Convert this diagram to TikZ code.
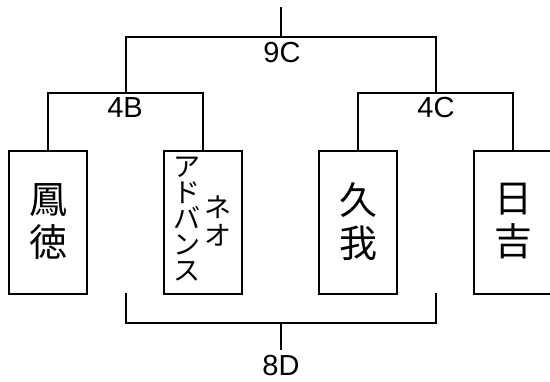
\documentclass[tikz,border=0pt]{standalone}
\usepackage{fontspec}
\setmainfont{Liberation Sans}
\newfontfamily\jp{Noto Sans CJK JP}
\begin{document}
\begin{tikzpicture}[x=1pt,y=-1pt,
  line/.style={line width=2pt,line cap=rect},
  teambox/.style={draw,line width=2pt,minimum width=78pt,minimum height=143.3pt,inner sep=0pt},
  kanji/.style={font=\jp\fontsize{38}{43}\selectfont,align=center,inner sep=0pt},
  kana/.style={font=\jp\fontsize{27}{26}\selectfont,align=center,inner sep=0pt},
  kanb/.style={font=\jp\fontsize{27}{28}\selectfont,align=center,inner sep=0pt},
  score/.style={font=\fontsize{29}{32}\selectfont,inner sep=0pt}]
\useasboundingbox (0,0) rectangle (550,381);
% boxes
\node[teambox] (b1) at (48,222.4) {};
\node[teambox] (b2) at (203,222.4) {};
\node[teambox] (b3) at (358,222.4) {};
\node[teambox] (b4) at (513,222.4) {};
\node[kanji] (t1) at (48,221.5) {鳳\\徳};
\node[kana] (t2a) at (187,219.5) {ア\\ド\\バ\\ン\\ス};
\node[kanb] (t2b) at (218,221.5) {ネ\\オ};
\node[kanji] (t3) at (358,221.5) {久\\我};
\node[kanji] (t4) at (513,221.5) {日\\吉};
% junction coordinates
\coordinate (m4B) at (125.5,93.3);
\coordinate (m4C) at (435.5,93.3);
\coordinate (m9C) at (281,37);
\coordinate (top) at (281,8);
\coordinate (bl) at (126,294);
\coordinate (br) at (436,294);
\coordinate (m8D) at (281,323);
\coordinate (bot) at (281,349);
% connectors
\draw[line] (b1.north) |- (m4B) -| (b2.north);
\draw[line] (b3.north) |- (m4C) -| (b4.north);
\draw[line] (m4B) |- (m9C) -| (m4C);
\draw[line] (m9C) -- (top);
\draw[line] (bl) |- (m8D) -| (br);
\draw[line] (m8D) -- (bot);
% labels
\node[score] (l9C) at (282,52.5) {9C};
\node[score] (l4B) at (125,108) {4B};
\node[score] (l4C) at (436,108) {4C};
\node[score] (l8D) at (281,366) {8D};
\end{tikzpicture}
\end{document}
